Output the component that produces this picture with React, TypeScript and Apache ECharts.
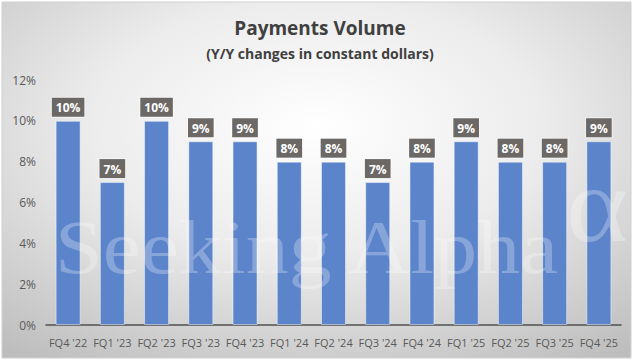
import React, { useEffect, useRef } from "react";
import * as echarts from "echarts";

const categories = ["FQ4 '22", "FQ1 '23", "FQ2 '23", "FQ3 '23", "FQ4 '23", "FQ1 '24", "FQ2 '24", "FQ3 '24", "FQ4 '24", "FQ1 '25", "FQ2 '25", "FQ3 '25", "FQ4 '25"];
const growth = [10, 7, 10, 9, 9, 8, 8, 7, 8, 9, 8, 8, 9];
const titleText = "Payments Volume";
const subtitleText = "(Y/Y changes in constant dollars)";
const watermark = "Seeking Alpha";

export default function App() {
  const ref = useRef<HTMLDivElement>(null);
  useEffect(() => {
    if (!ref.current) return;
    const chart = echarts.init(ref.current, undefined, { renderer: "svg" });
    const font = "'Open Sans', sans-serif";
    chart.setOption({
      animation: false,
      backgroundColor: "#ffffff",
      graphic: [
        {
          type: "rect",
          z: -10,
          silent: true,
          shape: { x: 2, y: 2, width: 629, height: 356 },
          style: {
            fill: new echarts.graphic.RadialGradient(0.5, 0.35, 0.8, [
              { offset: 0, color: "#ffffff" },
              { offset: 0.45, color: "#ececec" },
              { offset: 1, color: "#bdbdbd" },
            ]),
            stroke: "#d0d0d0",
            lineWidth: 1,
          },
        },
        {
          type: "text",
          z: 100,
          silent: true,
          x: 55,
          y: 210,
          scaleX: 1.13,
          style: {
            text: watermark,
            x: 0,
            y: 0,
            verticalAlign: "top",
            font: "76px 'Liberation Serif', serif",
            fill: "rgba(255,255,255,0.27)",
          },
        },
        {
          type: "text",
          z: 100,
          silent: true,
          x: 566,
          y: 151,
          scaleX: 1.1,
          style: {
            text: "α",
            x: 0,
            y: 0,
            verticalAlign: "top",
            font: "108px 'Liberation Serif', serif",
            fill: "rgba(255,255,255,0.27)",
          },
        },
      ],
      title: [
        {
          text: titleText,
          left: "center",
          top: 13,
          textStyle: { fontFamily: font, fontSize: 19, fontWeight: "bold", color: "#404040" },
        },
        {
          text: subtitleText,
          left: "center",
          top: 41,
          textStyle: { fontFamily: font, fontSize: 14, fontWeight: "bold", color: "#404040" },
        },
      ],
      grid: { left: 46, right: 19, top: 80, bottom: 39, containLabel: false },
      xAxis: {
        type: "category",
        data: categories,
        axisLine: { lineStyle: { color: "#505050", width: 1.5 } },
        axisTick: { show: false },
        axisLabel: { interval: 0, color: "#595959", fontFamily: font, fontSize: 11, margin: 12 },
      },
      yAxis: {
        type: "value",
        min: 0,
        max: 12,
        interval: 2,
        splitLine: { show: false },
        axisLine: { show: false },
        axisTick: { show: false },
        axisLabel: { formatter: "{value}%", color: "#595959", fontFamily: font, fontSize: 12, margin: 10 },
      },
      series: [
        {
          type: "bar",
          data: growth,
          barWidth: 25,
          itemStyle: { color: "#5b84cb", borderColor: "rgba(255,255,255,0.45)", borderWidth: 1 },
          label: {
            show: true,
            position: "top",
            distance: 4,
            formatter: "{c}%",
            color: "#ffffff",
            fontFamily: font,
            fontWeight: "bold",
            fontSize: 12,
            backgroundColor: "#6b6866",
            borderColor: "rgba(255,255,255,0.5)",
            borderWidth: 1,
            padding: [4, 4, 3, 4],
          },
        },
      ],
    });
    return () => chart.dispose();
  }, []);
  return (
    <div
      ref={ref}
      style={{ position: "absolute", left: 0, top: 0, width: 640, height: 364 }}
    />
  );
}
